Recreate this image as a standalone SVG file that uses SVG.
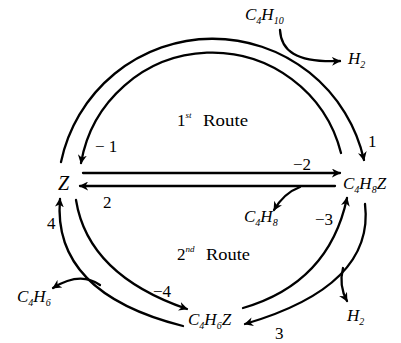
<svg xmlns="http://www.w3.org/2000/svg" width="401" height="343" viewBox="0 0 401 343">
<defs>
<marker id="ah" viewBox="0 0 10 10" refX="9" refY="5" markerWidth="9" markerHeight="9" markerUnits="userSpaceOnUse" orient="auto">
<path d="M0,0 L10,5 L0,10 L3,5 z" fill="#000"/>
</marker>
<style>
.c{fill:none;stroke:#000;stroke-width:2.3;stroke-linecap:round}
.t{font-family:"Liberation Serif","Times New Roman",serif;font-size:17px;fill:#000}
.i{font-style:italic}
.s{font-size:10px}
.sup{font-size:9px;font-style:italic}
</style>
</defs>
<rect width="401" height="343" fill="#fff"/>
<g id="connectors">
<path class="c" d="M61,162 A155 155 0 0 1 364,160" marker-end="url(#ah)"/>
<path class="c" d="M341,153 A133 133 0 0 0 81,163" marker-end="url(#ah)"/>
<path class="c" d="M83,173 L340,173" marker-end="url(#ah)"/>
<path class="c" d="M335,186 L80,186" marker-end="url(#ah)"/>
<path class="c" d="M183,326 Q52,293 60,199" marker-end="url(#ah)"/>
<path class="c" d="M76,200 Q88,275 187,309" marker-end="url(#ah)"/>
<path class="c" d="M243,308 Q329,283 347,198" marker-end="url(#ah)"/>
<path class="c" d="M365,204 Q375,286 245,324" marker-end="url(#ah)"/>
<path class="c" d="M280,30 C281,50 295,63 340,61" marker-end="url(#ah)"/>
<path class="c" d="M300,187 Q284,193 274,210" marker-end="url(#ah)"/>
<path class="c" d="M343,268 C340,280 342,292 347,301" marker-end="url(#ah)"/>
<path class="c" d="M100,285 Q80,271 53,288" marker-end="url(#ah)"/>
</g>
<g id="node-Z"><text class="t i" x="58" y="190" style="font-size:20px">Z</text></g>
<g id="node-C4H8Z"><text class="t i" x="343" y="189">C<tspan class="s" dy="4">4</tspan><tspan dy="-4">H</tspan><tspan class="s" dy="4">8</tspan><tspan dy="-4">Z</tspan></text></g>
<g id="node-C4H6Z"><text class="t i" x="188" y="325">C<tspan class="s" dy="4">4</tspan><tspan dy="-4">H</tspan><tspan class="s" dy="4">6</tspan><tspan dy="-4">Z</tspan></text></g>
<g id="node-C4H10"><text class="t i" x="245" y="20">C<tspan class="s" dy="4">4</tspan><tspan dy="-4">H</tspan><tspan class="s" dy="4">10</tspan></text></g>
<g id="node-H2-top"><text class="t i" x="348" y="64">H<tspan class="s" dy="4">2</tspan></text></g>
<g id="node-C4H8"><text class="t i" x="244" y="222">C<tspan class="s" dy="4">4</tspan><tspan dy="-4">H</tspan><tspan class="s" dy="4">8</tspan></text></g>
<g id="node-C4H6"><text class="t i" x="17" y="302">C<tspan class="s" dy="4">4</tspan><tspan dy="-4">H</tspan><tspan class="s" dy="4">6</tspan></text></g>
<g id="node-H2-bottom"><text class="t i" x="347" y="321">H<tspan class="s" dy="4">2</tspan></text></g>
<g id="labels">
<text class="t" x="177" y="126">1<tspan class="sup" dy="-8">st</tspan></text>
<text class="t" x="203" y="126" textLength="45" lengthAdjust="spacingAndGlyphs">Route</text>
<text class="t" x="177" y="260">2<tspan class="sup" dy="-8">nd</tspan></text>
<text class="t" x="206" y="260" textLength="44" lengthAdjust="spacingAndGlyphs">Route</text>
<text class="t" x="95" y="152">− 1</text>
<text class="t" x="368" y="147">1</text>
<text class="t" x="293" y="170">−2</text>
<text class="t" x="103" y="208">2</text>
<text class="t" x="315" y="225">−3</text>
<text class="t" x="47" y="229">4</text>
<text class="t" x="153" y="297">−4</text>
<text class="t" x="275" y="339">3</text>
</g>
</svg>
